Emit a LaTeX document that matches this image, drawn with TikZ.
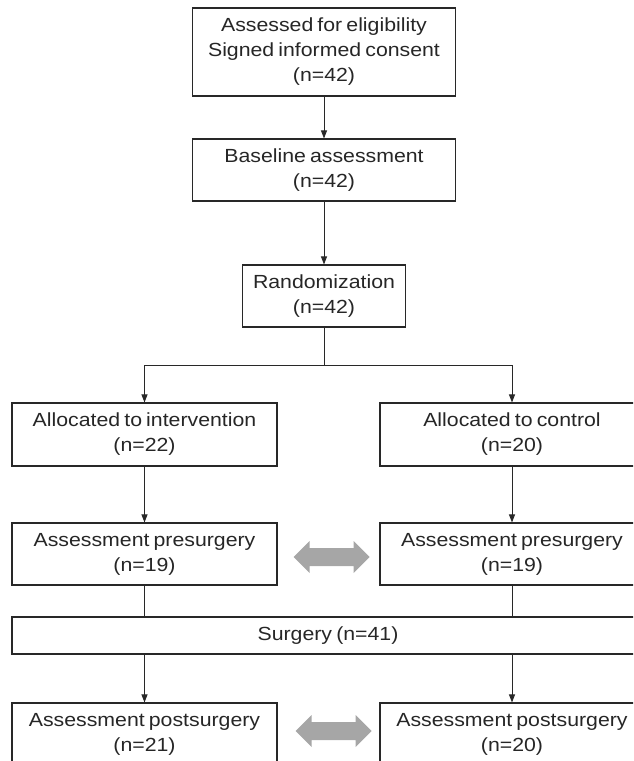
\documentclass[tikz,border=0pt]{standalone}
\usepackage{fontspec}
\setmainfont{Liberation Sans}[FakeStretch=1.12,WordSpace=0.7]
\usepackage{tikz}
\usetikzlibrary{arrows.meta}
\definecolor{boxline}{RGB}{40,40,40}
\definecolor{arrowgray}{RGB}{166,166,166}

\begin{document}
\begin{tikzpicture}[x=1pt,y=-1pt,
    box/.style={draw=boxline,line width=1.1pt,align=center,inner sep=0pt,text=black!85,font=\fontsize{19}{25}\selectfont},
    link/.style={draw=boxline,line width=0.9pt},
    arr/.style={-{Triangle[length=8pt,width=6pt]}}]
\clip (0,0) rectangle (633,761);
\node[box,minimum width=263pt,minimum height=88pt] (elig) at (324,52) {Assessed for eligibility\\Signed informed consent\\(n=42)};
\node[box,minimum width=263pt,minimum height=62pt] (base) at (324,170) {Baseline assessment\\(n=42)};
\node[box,minimum width=163pt,minimum height=62pt] (rand) at (324,296) {Randomization\\(n=42)};
\coordinate (split) at (324,365);
\node[box,minimum width=265pt,minimum height=63pt] (allocI) at (144.5,434.5) {Allocated to intervention\\(n=22)};
\node[box,minimum width=264pt,minimum height=63pt] (allocC) at (512,434.5) {Allocated to control\\(n=20)};
\node[box,minimum width=265pt,minimum height=62pt] (preI) at (144.5,554) {Assessment presurgery\\(n=19)};
\node[box,minimum width=264pt,minimum height=62pt] (preC) at (512,554) {Assessment presurgery\\(n=19)};
\node[box,minimum width=632pt,minimum height=37pt] (surg) at (328,635.5) {Surgery (n=41)};
\node[box,minimum width=265pt,minimum height=63pt] (postI) at (144.5,734.5) {Assessment postsurgery\\(n=21)};
\node[box,minimum width=264pt,minimum height=63pt] (postC) at (512,734.5) {Assessment postsurgery\\(n=20)};
\draw[link,arr] (elig) -- (base);
\draw[link,arr] (base) -- (rand);
\draw[link] (rand) -- (split);
\draw[link,arr] (split) -| (allocI);
\draw[link,arr] (split) -| (allocC);
\draw[link,arr] (allocI) -- (preI);
\draw[link,arr] (allocC) -- (preC);
\draw[link] (preI) -- (preI |- surg.north);
\draw[link] (preC) -- (preC |- surg.north);
\draw[link,arr] (postI |- surg.south) -- (postI);
\draw[link,arr] (postC |- surg.south) -- (postC);
\fill[arrowgray] ([xshift=16pt,yshift=-3pt]preI.east) -- ++(16,-16) -- ++(0,7) -- ++(44,0) -- ++(0,-7) -- ++(16,16) -- ++(-16,16) -- ++(0,-7) -- ++(-44,0) -- ++(0,7) -- cycle;
\fill[arrowgray] ([xshift=18pt,yshift=3.5pt]postI.east) -- ++(16,-16) -- ++(0,7) -- ++(44,0) -- ++(0,-7) -- ++(16,16) -- ++(-16,16) -- ++(0,-7) -- ++(-44,0) -- ++(0,7) -- cycle;
\end{tikzpicture}
\end{document}
